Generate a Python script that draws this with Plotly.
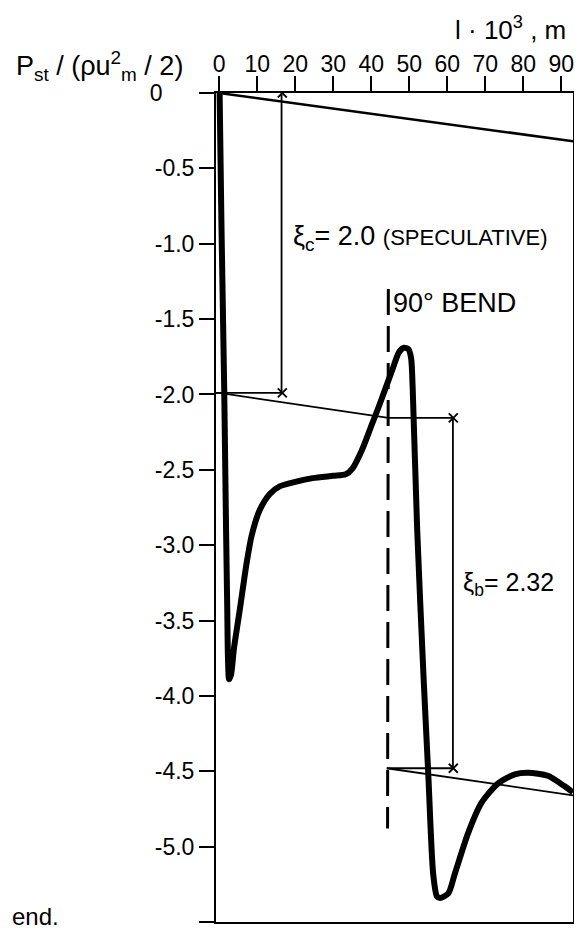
import plotly.graph_objects as go

# ---- data ----
curve_x = [0.1, 0.6, 1.3, 1.8, 2.1, 2.3, 2.6, 3.1, 3.9, 5.4, 7.2, 8.5, 10.6, 13.3,
           15.9, 20.0, 24.6, 30.0, 33.3, 35.1, 37.7, 40.3, 42.0, 45.5, 47.3, 48.6, 49.8, 50.5, 50.9,
           52.1, 53.8, 55.0, 56.3, 57.3, 58.1, 60.3, 62.0, 65.5, 69.0, 73.4, 77.8, 81.3, 86.5, 90.9, 93.1]
curve_y = [0.0, -0.9, -1.95, -2.9, -3.4, -3.75, -3.89, -3.86, -3.68, -3.43, -3.12,
           -2.94, -2.77, -2.66, -2.61, -2.58, -2.555, -2.54, -2.53, -2.49, -2.36, -2.19, -2.08, -1.84,
           -1.72, -1.69, -1.70, -1.76, -1.95, -2.9, -3.89, -4.51, -5.18, -5.33, -5.34, -5.31, -5.18,
           -4.91, -4.71, -4.58, -4.52, -4.51, -4.53, -4.60, -4.64]

friction_top_x = [0.0, 93.1]
friction_top_y = [0.0, -0.32]
friction_mid_x = [-0.85, 0.0, 44.5, 61.5]
friction_mid_y = [-1.99, -1.99, -2.155, -2.155]
friction_low_x = [44.1, 93.1]
friction_low_y = [-4.48, -4.66]

dim_c_x = [16.4, 16.4, -0.85, 16.6]
dim_c_y = [0.0, -1.99, -1.99, -1.99]
dim_b_x = [61.5, 61.5, 44.1, 61.6]
dim_b_y = [-2.155, -4.48, -4.48, -4.48]

marker_x = [16.6, 16.6, 61.6, 61.6]
marker_y = [0.0, -1.99, -2.155, -4.48]

bend_x = [44.5, 44.3]
bend_y = [-1.30, -4.88]

x_ticks = [0, 10, 20, 30, 40, 50, 60, 70, 80, 90]
x_ticktext = ["0", "10", "20", "30", "40", "50", "60", "70", "80", "90"]
y_ticks = [0, -0.5, -1.0, -1.5, -2.0, -2.5, -3.0, -3.5, -4.0, -4.5, -5.0, -5.5]
y_ticktext = ["0\u00a0\u00a0\u00a0\u00a0\u00a0", "-0.5", "-1.0", "-1.5", "-2.0", "-2.5", "-3.0",
              "-3.5", "-4.0", "-4.5", "-5.0", "-5.5"]

# ---- layout geometry (page pixels; the page body adds an 8px margin) ----
OFF = 8
W, H = 582 - OFF, 932 - OFF
L, R, T, B = 216 - OFF, 575 - OFF, 93 - OFF, 922 - OFF
FONT = "Liberation Sans"


def px(x):
    return (x - OFF - L) / (R - L)


def py(y):
    return (B - (y - OFF)) / (B - T)


fig = go.Figure()
thin = dict(color="black", width=1.8)

fig.add_trace(go.Scatter(x=friction_top_x, y=friction_top_y, mode="lines",
                         line=dict(color="black", width=2.5), hoverinfo="skip"))
fig.add_trace(go.Scatter(x=friction_mid_x, y=friction_mid_y, mode="lines", line=thin, hoverinfo="skip"))
fig.add_trace(go.Scatter(x=friction_low_x, y=friction_low_y, mode="lines", line=thin, hoverinfo="skip"))
fig.add_trace(go.Scatter(x=dim_c_x[:2], y=dim_c_y[:2], mode="lines", line=thin, hoverinfo="skip"))
fig.add_trace(go.Scatter(x=dim_c_x[2:], y=dim_c_y[2:], mode="lines", line=thin, hoverinfo="skip"))
fig.add_trace(go.Scatter(x=dim_b_x[:2], y=dim_b_y[:2], mode="lines", line=thin, hoverinfo="skip"))
fig.add_trace(go.Scatter(x=dim_b_x[2:], y=dim_b_y[2:], mode="lines", line=thin, hoverinfo="skip"))
fig.add_trace(go.Scatter(x=marker_x, y=marker_y, mode="markers",
                         marker=dict(symbol="x-thin", size=9, line=dict(color="black", width=1.8)),
                         hoverinfo="skip"))
fig.add_trace(go.Scatter(x=bend_x, y=bend_y, mode="lines",
                         line=dict(color="black", width=3, dash="26px,11px"), hoverinfo="skip"))
fig.add_trace(go.Scatter(x=curve_x, y=curve_y, mode="lines",
                         line=dict(color="black", width=6, shape="spline", smoothing=0.7),
                         hoverinfo="skip"))

ann = []
ann.append(dict(x=18.9, y=-0.96, xref="x", yref="y", xanchor="left", yanchor="middle",
                text="ξ<sub>c</sub>= 2.0 <span style='font-size:22px'>(SPECULATIVE)</span>",
                font=dict(size=27, family=FONT, color="black"), showarrow=False))
ann.append(dict(x=45.3, y=-1.39, xref="x", yref="y", xanchor="left", yanchor="middle",
                text="90° BEND", font=dict(size=27, family=FONT, color="black"), showarrow=False))
ann.append(dict(x=63.6, y=-3.26, xref="x", yref="y", xanchor="left", yanchor="middle",
                text="ξ<sub>b</sub>= 2.32", font=dict(size=25, family=FONT, color="black"),
                showarrow=False))
ann.append(dict(x=px(13), y=py(66), xref="paper", yref="paper", xanchor="left", yanchor="middle",
                text="P<sub>st</sub> / (ρu<sup>2</sup><sub>m</sub> / 2)",
                font=dict(size=27, family=FONT, color="black"), showarrow=False))
ann.append(dict(x=px(454), y=py(29), xref="paper", yref="paper", xanchor="left", yanchor="middle",
                text="l · 10<sup>3</sup> , m", font=dict(size=26, family=FONT, color="black"),
                showarrow=False))
ann.append(dict(x=px(9), y=py(916), xref="paper", yref="paper", xanchor="left", yanchor="middle",
                text="end.", font=dict(size=24, family=FONT, color="black"), showarrow=False))

fig.update_layout(
    width=W, height=H,
    margin=dict(l=L, r=W - R, t=T, b=H - B, pad=0),
    paper_bgcolor="white", plot_bgcolor="white",
    showlegend=False,
    annotations=ann,
    font=dict(family=FONT, size=23, color="black"),
)
fig.update_xaxes(range=[-0.85, 93.1], side="top", tickmode="array", tickvals=x_ticks,
                 ticktext=x_ticktext, ticks="outside", ticklen=15, tickwidth=2, tickcolor="black",
                 ticklabelstandoff=-5,
                 showline=True, linewidth=2, linecolor="black", mirror=True, showgrid=False,
                 zeroline=False, tickfont=dict(size=23, family=FONT, color="black"))
fig.update_yaxes(range=[-5.5, 0], tickmode="array", tickvals=y_ticks, ticktext=y_ticktext,
                 ticks="outside", ticklen=15, tickwidth=2, tickcolor="black",
                 showline=True, linewidth=2, linecolor="black", mirror=True, showgrid=False,
                 zeroline=False, tickfont=dict(size=23, family=FONT, color="black"))

fig.write_html("out.html")
